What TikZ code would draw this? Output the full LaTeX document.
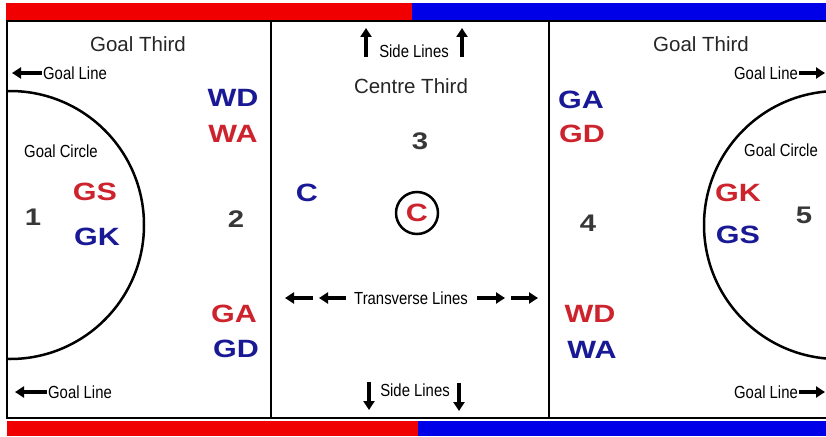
\documentclass[tikz,border=0pt]{standalone}
\usepackage{fontspec}
\setmainfont{Liberation Sans}
\newfontfamily\labelfont[FakeStretch=0.85]{Liberation Sans}
\newfontfamily\posfont[FakeStretch=1.22]{Liberation Sans}
\usepackage{xcolor}
\usepackage{tikz}
\usetikzlibrary{arrows.meta,positioning,calc}

\definecolor{barred}{RGB}{240,0,0}
\definecolor{barblue}{RGB}{0,0,232}
\definecolor{posred}{RGB}{205,35,45}
\definecolor{posblue}{RGB}{25,25,150}
\definecolor{numgray}{RGB}{55,55,55}

\begin{document}
\begin{tikzpicture}[x=1pt,y=-1pt,
  court/.style={line width=2pt,black},
  arr/.style={line width=4.2pt,-{Triangle[length=9pt,width=11pt]}},
  zone/.style={inner sep=0pt,text=black!85,font=\fontsize{20.5}{20.5}\selectfont},
  small/.style={inner sep=1pt,font=\labelfont\fontsize{17.5}{17.5}\selectfont},
  player/.style={inner sep=0pt,font=\posfont\bfseries\fontsize{25}{25}\selectfont},
  num/.style={inner sep=0pt,text=numgray,font=\posfont\bfseries\fontsize{24}{24}\selectfont}]
  \useasboundingbox (0,0) rectangle (826,436);
  \fill[white] (0,0) rectangle (826,436);

  % coloured bars
  \fill[barred]  (6,3) rectangle (412,20);
  \fill[barblue] (412,3) rectangle (826,20);
  \fill[barred]  (7,421) rectangle (418,436);
  \fill[barblue] (418,421) rectangle (826,436);

  % court lines
  \draw[court] (826,21) -- (7,21) -- (7,418) -- (826,418);
  \draw[court] (271,21) -- (271,418);
  \draw[court] (549,21) -- (549,418);
  \begin{scope}
    \clip (7,21) rectangle (826,418);
    \draw[line width=2.5pt] (10,225) circle[radius=134];
    \draw[line width=2.5pt] (838,225) circle[radius=134];
  \end{scope}

  % thirds
  \node[zone] (gtl) at (138,44) {Goal Third};
  \node[zone] (ctr) at (411,86) {Centre Third};
  \node[zone] (gtr) at (701,44) {Goal Third};

  % goal lines
  \node[small] (gltl) at (75,73) {Goal Line};
  \node[small] (glbl) at (80,392) {Goal Line};
  \node[small] (gltr) at (766,73) {Goal Line};
  \node[small] (glbr) at (766,392) {Goal Line};
  \coordinate (gltlend) at (12,73);
  \coordinate (glblend) at (15,392);
  \coordinate (gltrend) at (825,73);
  \coordinate (glbrend) at (825,392);
  \draw[arr] (gltl.west) -- (gltlend);
  \draw[arr] (glbl.west) -- (glblend);
  \draw[arr] (gltr.east) -- (gltrend);
  \draw[arr] (glbr.east) -- (glbrend);

  % side lines
  \node[small] (sltop) at (414,51) {Side Lines};
  \node[small] (slbot) at (415,390) {Side Lines};
  \coordinate (sta) at (366,57);  \coordinate (stb) at (366,28);
  \coordinate (stc) at (462,57);  \coordinate (std) at (462,28);
  \coordinate (sba) at (369,382); \coordinate (sbb) at (369,410);
  \coordinate (sbc) at (459,383); \coordinate (sbd) at (459,411);
  \draw[arr] (sta) -- (stb);
  \draw[arr] (stc) -- (std);
  \draw[arr] (sba) -- (sbb);
  \draw[arr] (sbc) -- (sbd);

  % transverse lines
  \node[small] (trans) at (411,298) {Transverse Lines};
  \coordinate (tra) at (313,298); \coordinate (trb) at (285,298);
  \coordinate (trc) at (346,298); \coordinate (trd) at (319,298);
  \coordinate (tre) at (477,298); \coordinate (trf) at (505,298);
  \coordinate (trg) at (511,298); \coordinate (trh) at (538,298);
  \draw[arr] (tra) -- (trb);
  \draw[arr] (trc) -- (trd);
  \draw[arr] (tre) -- (trf);
  \draw[arr] (trg) -- (trh);

  % goal circles
  \node[small] (gcl) at (61,151) {Goal Circle};
  \node[small] (gcr) at (781,150) {Goal Circle};

  % areas
  \node[num] (a1) at (33,217) {1};
  \node[num] (a2) at (236,219) {2};
  \node[num] (a3) at (420,141) {3};
  \node[num] (a4) at (588,223) {4};
  \node[num] (a5) at (804,215) {5};

  % players, left goal third
  \node[player,text=posred]  (lgs) at (95,192) {GS};
  \node[player,text=posblue] (lgk) at (97,237) {GK};
  \node[player,text=posblue] (lwd) at (233,98) {WD};
  \node[player,text=posred]  (lwa) at (233,134) {WA};
  \node[player,text=posred]  (lga) at (234,314) {GA};
  \node[player,text=posblue] (lgd) at (236,349) {GD};

  % centre third
  \node[player,text=posblue] (cb) at (307,193) {C};
  \node[player,text=posred,draw=black,circle,line width=2.5pt,minimum size=42pt] (cr) at (417,213) {C};

  % players, right goal third
  \node[player,text=posblue] (rga) at (581,100) {GA};
  \node[player,text=posred]  (rgd) at (582,134) {GD};
  \node[player,text=posred]  (rgk) at (738,193) {GK};
  \node[player,text=posblue] (rgs) at (738,235) {GS};
  \node[player,text=posred]  (rwd) at (590,314) {WD};
  \node[player,text=posblue] (rwa) at (592,350) {WA};
\end{tikzpicture}
\end{document}
